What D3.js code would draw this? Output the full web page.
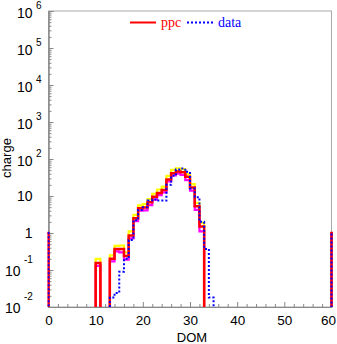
<!DOCTYPE html>
<html><head><meta charset="utf-8">
<script src="https://cdn.jsdelivr.net/npm/d3@7/dist/d3.min.js"></script>
<style>body{margin:0;background:#fff}svg{display:block}</style>
</head><body>
<script>
// ---- data ----
const xTicks = [0, 10, 20, 30, 40, 50, 60];
const yDecades = [-2, -1, 0, 1, 2, 3, 4, 5, 6];
const ppcDom    = [-1, 10, 13, 14, 15, 16, 17, 18, 19, 20, 21, 22, 23, 24, 25, 26, 27, 28, 29, 30, 31, 32, 60];
const ppcCharge = [1, 0.155, 0.2, 0.37, 0.37, 0.24, 0.85, 2.5, 4.7, 4.9, 6.8, 9.5, 12, 14.5, 28, 41, 46, 44, 33, 17, 5.3, 1.5, 1];
const hiCharge  = [1, 0.2, 0.25, 0.45, 0.46, 0.3, 1.1, 3.1, 5.6, 6.0, 8.2, 11.5, 15, 18, 35, 51, 56, 53, 39, 21, 6.5, 1.9, 1];
const loCharge  = [1, 0.13, 0.17, 0.32, 0.3, 0.19, 0.72, 2.1, 4.0, 4.1, 5.7, 8.0, 10.5, 12.5, 25, 36, 40, 37, 27, 14, 4.2, 1.1, 1];
const dataDom    = [-1, 13, 14, 15, 16, 17, 18, 19, 20, 21, 22, 23, 24, 25, 26, 27, 28, 29, 30, 31, 32, 33, 34, 60];
const dataCharge = [1, 0.018, 0.024, 0.09, 0.2, 0.65, 2.2, 4.2, 5.0, 7.5, 8.0, 7.5, 7.5, 20, 35, 52, 55, 45, 16, 9.3, 2.0, 0.37, 0.018, 1];

const W = 337, H = 344;
const m = {l: 48.5, r: 331.5, t: 11, b: 307};
const svg = d3.select("body").append("svg").attr("width", W).attr("height", H);

const x = d3.scaleLinear().domain([0, 60]).range([m.l, m.r]);
const y = d3.scaleLog().domain([1e-2, 1e6]).range([m.b, m.t]);

// clip
svg.append("defs").append("clipPath").attr("id", "clip")
  .append("rect").attr("x", m.l - 1).attr("y", m.t).attr("width", m.r - m.l + 2.5).attr("height", m.b - m.t);

// frame
const frame = svg.append("g");
frame.append("rect").attr("x", m.l).attr("y", m.t).attr("width", m.r - m.l).attr("height", m.b - m.t)
  .attr("fill", "none").attr("stroke", "#aaa").attr("stroke-width", 1);

// y axis major/minor ticks
const yMajor = yDecades.map(d => Math.pow(10, d));
const yMinor = [];
yDecades.slice(0, -1).forEach(d => { for (let k = 2; k <= 9; k++) yMinor.push(k * Math.pow(10, d)); });
const gy1 = svg.append("g").attr("transform", `translate(${m.l},0)`)
  .call(d3.axisLeft(y).tickValues(yMajor).tickSize(-5).tickFormat(""));
const gy2 = svg.append("g").attr("transform", `translate(${m.l},0)`)
  .call(d3.axisLeft(y).tickValues(yMinor).tickSize(-3).tickFormat(""));
const xMinor = d3.range(0, 61, 2).filter(v => v % 10 !== 0);
const gx1 = svg.append("g").attr("transform", `translate(0,${m.b})`)
  .call(d3.axisBottom(x).tickValues(xTicks).tickSize(-5).tickFormat(""));
const gx2 = svg.append("g").attr("transform", `translate(0,${m.b})`)
  .call(d3.axisBottom(x).tickValues(xMinor).tickSize(-3).tickFormat(""));
[gy1, gy2, gx1, gx2].forEach(g => {
  g.selectAll("path.domain").attr("stroke", "#888");
  g.selectAll(".tick line").attr("stroke", "#888");
});

// y tick labels
const fontSans = "'Liberation Sans', Arial, Helvetica, sans-serif";
yDecades.forEach(d => {
  const yy = y(Math.pow(10, d));
  if (d === 0 || d === 1) {
    svg.append("text").attr("x", 32.5).attr("y", yy + 5).attr("text-anchor", "end")
      .attr("font-family", fontSans).attr("font-size", 14).text(d === 0 ? "1" : "10");
  } else {
    const neg = d < 0;
    const baseX = neg ? 20.5 : 32.5;
    svg.append("text").attr("x", baseX).attr("y", yy + (neg ? 6 : 7)).attr("text-anchor", "end")
      .attr("font-family", fontSans).attr("font-size", 14).text("10");
    svg.append("text").attr("x", baseX + 3.5).attr("y", yy + (neg ? -7 : -2)).attr("text-anchor", "start")
      .attr("font-family", fontSans).attr("font-size", 10).text(String(d));
  }
});
// x tick labels
xTicks.forEach(t => {
  svg.append("text").attr("x", t === 60 ? x(t) - 3 : x(t) + 0.5).attr("y", 325).attr("text-anchor", "middle")
    .attr("font-family", fontSans).attr("font-size", 13.5).text(t);
});
// axis titles
svg.append("text").attr("x", 192).attr("y", 342).attr("text-anchor", "middle")
  .attr("font-family", fontSans).attr("font-size", 13).text("DOM");
svg.append("text").attr("transform", "translate(11,158) rotate(-90)").attr("text-anchor", "middle")
  .attr("font-family", fontSans).attr("font-size", 13).text("charge");

// histogram step paths
function fullBins(doms, vals) {
  const map = new Map(doms.map((d, i) => [d, vals[i]]));
  const pts = [];
  for (let k = -1; k <= 61; k++) pts.push([k, map.has(k) ? map.get(k) : 0]);
  return pts;
}
const line = d3.line()
  .x(d => x(d[0]))
  .y(d => d[1] > 0 ? y(d[1]) : m.b + 20)
  .curve(d3.curveStepAfter);

const plot = svg.append("g").attr("clip-path", "url(#clip)");
plot.append("path").attr("d", line(fullBins(ppcDom, hiCharge)))
  .attr("fill", "none").attr("stroke", "#ffff00").attr("stroke-width", 2.2);
plot.append("path").attr("d", line(fullBins(ppcDom, loCharge)))
  .attr("fill", "none").attr("stroke", "#ff00ff").attr("stroke-width", 2.2);
plot.append("path").attr("d", line(fullBins(ppcDom, ppcCharge)))
  .attr("fill", "none").attr("stroke", "#ff0000").attr("stroke-width", 2.5);
plot.append("path").attr("d", line(fullBins(dataDom, dataCharge)))
  .attr("fill", "none").attr("stroke", "#0000ff").attr("stroke-width", 2).attr("stroke-dasharray", "2,2");

// legend
const fontSerif = "'Liberation Serif', 'Times New Roman', serif";
svg.append("line").attr("x1", 130).attr("x2", 156).attr("y1", 22.5).attr("y2", 22.5)
  .attr("stroke", "#ff0000").attr("stroke-width", 2);
svg.append("text").attr("x", 161).attr("y", 26.5).attr("font-family", fontSerif).attr("font-size", 14)
  .attr("fill", "#ff0000").text("ppc");
svg.append("line").attr("x1", 187).attr("x2", 213).attr("y1", 22.5).attr("y2", 22.5)
  .attr("stroke", "#0000ff").attr("stroke-width", 2).attr("stroke-dasharray", "2,2");
svg.append("text").attr("x", 218).attr("y", 26.5).attr("font-family", fontSerif).attr("font-size", 14)
  .attr("fill", "#0000ff").text("data");
</script>
</body></html>
